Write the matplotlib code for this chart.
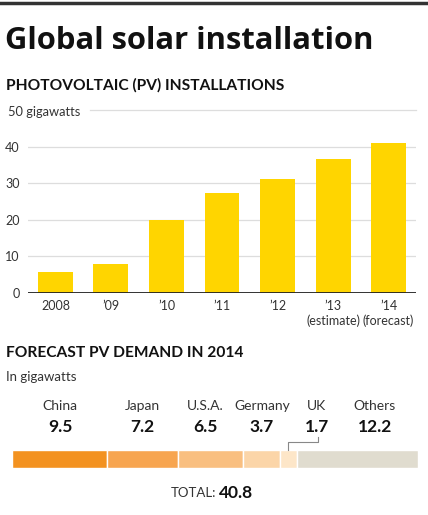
import matplotlib.pyplot as plt
from matplotlib.lines import Line2D

plt.rcParams['font.family'] = ['Lato', 'DejaVu Sans']

# yearly installations (GW)
years = ['2008', '\u201909', '\u201910', '\u201911', '\u201912',
         '\u201913\n(estimate)', '\u201914\n(forecast)']
installed = [5.8, 7.8, 20.0, 27.4, 31.2, 36.7, 40.9]
yticks = [0, 10, 20, 30, 40]

# forecast demand 2014 (GW)
countries = ['China', 'Japan', 'U.S.A.', 'Germany', 'UK', 'Others']
demand = [9.5, 7.2, 6.5, 3.7, 1.7, 12.2]
total = 40.8
seg_colors = ['#f39220', '#f7a550', '#f9bf80', '#fbd5a8', '#fde6c8', '#e0dccf']
label_x = [60, 142, 205, 262, 317, 375]  # label centres, px

W, H = 428, 515
fig = plt.figure(figsize=(W / 100, H / 100), dpi=100)

def fx(px):
    return px / W

def fy(py):
    return 1 - py / H

# top rule
fig.add_artist(Line2D([0, 1], [fy(3), fy(3)], color='#333333', linewidth=2.5))

fig.text(fx(5), fy(41), 'Global solar installation', fontsize=22.3,
         fontweight='bold', va='center', ha='left', color='#111111',
         family=['Open Sans', 'DejaVu Sans'])
fig.text(fx(6), fy(85), 'PHOTOVOLTAIC (PV) INSTALLATIONS', fontsize=11.2,
         fontweight='bold', va='center', ha='left', color='#111111')

# --- bar chart ---
ax = fig.add_axes([fx(28), fy(292.7), fx(416 - 28), (292.7 - 110.3) / H])
x = range(len(installed))
ax.bar(x, installed, width=0.63, color='#ffd500', zorder=2)
ax.set_xlim(-0.495, len(installed) - 0.505)
ax.set_ylim(0, 50)
for v in yticks[1:]:
    ax.axhline(v, color='#dddddd', linewidth=0.9, zorder=1)
ax.axhline(0, color='#222222', linewidth=1.3, zorder=3)
ax.set_yticks(yticks)
ax.set_yticklabels([str(v) for v in yticks])
ax.set_xticks(list(x))
ax.set_xticklabels(years, linespacing=1.25)
ax.tick_params(axis='y', length=0, pad=6, labelsize=9, labelcolor='#333333')
ax.tick_params(axis='x', length=0, pad=5, labelsize=9, labelcolor='#333333')
for lab in ax.get_xticklabels():
    lab.set_va('top')
for s in ax.spines.values():
    s.set_visible(False)
# top gridline with unit label
ax.plot([(90 - 28) / 388 * 7 - 0.495, len(installed) - 0.505], [50, 50],
        color='#dddddd', linewidth=0.9, clip_on=False)
fig.text(fx(8), fy(112), '50 gigawatts', fontsize=9.3, va='center', ha='left',
         color='#333333')

# --- forecast demand ---
fig.text(fx(6), fy(353), 'FORECAST PV DEMAND IN 2014', fontsize=11.2,
         fontweight='bold', va='center', ha='left', color='#111111')
fig.text(fx(6), fy(377), 'In gigawatts', fontsize=9.5, va='center', ha='left',
         color='#333333')

ax2 = fig.add_axes([fx(12), fy(468), fx(418 - 12), 18 / H])
left = 0
centres = []
for val, col in zip(demand, seg_colors):
    ax2.barh(0, val, left=left, height=1, color=col, edgecolor='white',
             linewidth=1)
    centres.append(left + val / 2)
    left += val
ax2.set_xlim(0, total)
ax2.set_ylim(-0.5, 0.5)
ax2.axis('off')

for name, val, lx in zip(countries, demand, label_x):
    fig.text(fx(lx), fy(406), name, fontsize=10, ha='center', va='center',
             color='#333333')
    fig.text(fx(lx), fy(427), f'{val}', fontsize=12.5, fontweight='bold',
             ha='center', va='center', color='#111111')

# UK connector
uk_px = 12 + centres[4] / total * 406
fig.add_artist(Line2D([fx(318), fx(318), fx(uk_px), fx(uk_px)],
                      [fy(437), fy(442), fy(442), fy(450)],
                      color='#888888', linewidth=0.8))

fig.text(fx(216), fy(493), 'TOTAL:', fontsize=9.5, ha='right', va='center',
         color='#333333')
fig.text(fx(219), fy(493), f'{total}', fontsize=12.5, fontweight='bold',
         ha='left', va='center', color='#111111')

fig.savefig('out.png', dpi=100, facecolor='white')
